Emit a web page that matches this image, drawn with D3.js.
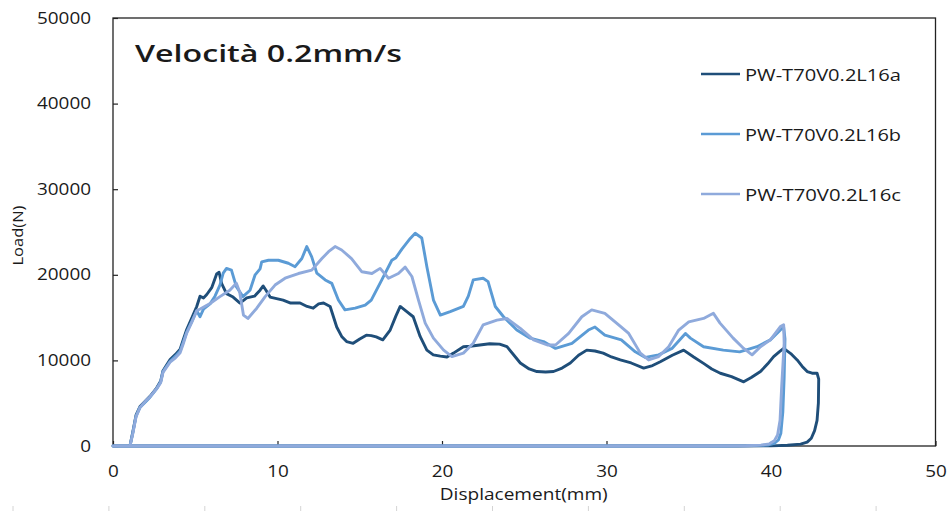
<!DOCTYPE html>
<html>
<head>
<meta charset="utf-8">
<script src="https://cdn.jsdelivr.net/npm/d3@7"></script>
<style>
  html, body { margin: 0; padding: 0; background: #fff; }
  svg { display: block; }
  text { font-family: "Open Sans", "Noto Sans", sans-serif; fill: #1a1a1a; }
</style>
</head>
<body>
<svg id="chart" width="952" height="511"></svg>
<script>
// ---------- data ----------
const seriesNames = ["PW-T70V0.2L16a", "PW-T70V0.2L16b", "PW-T70V0.2L16c"];
const xTicks = [0, 10, 20, 30, 40, 50];
const yTicks = [0, 10000, 20000, 30000, 40000, 50000];
const titleText = "Velocità 0.2mm/s";
const xLabel = "Displacement(mm)";
const yLabel = "Load(N)";

// [displacement mm, load N]
const seriesA = [[0,0],[1.03,0],[1.2,1600],[1.4,3600],[1.64,4600],[2.0,5300],[2.25,5800],[2.66,6800],[2.9,7600],[3.04,8800],[3.47,10100],[3.8,10700],[4.08,11300],[4.3,12600],[4.48,13600],[4.8,15000],[5.09,16300],[5.29,17500],[5.5,17300],[5.7,17700],[6.0,18500],[6.3,20100],[6.45,20300],[6.6,19000],[6.9,17800],[7.3,17400],[7.72,16700],[8.13,17300],[8.6,17500],[8.94,18200],[9.13,18700],[9.3,18200],[9.55,17400],[10.34,17050],[10.8,16700],[11.37,16700],[11.8,16300],[12.17,16100],[12.5,16600],[12.8,16700],[13.2,16300],[13.6,13900],[13.9,12800],[14.2,12200],[14.6,12000],[15.0,12500],[15.4,12950],[15.7,12900],[16.0,12750],[16.4,12400],[16.85,13550],[17.2,15200],[17.46,16300],[17.86,15700],[18.25,15100],[18.67,12800],[19.08,11200],[19.47,10650],[19.9,10500],[20.3,10400],[20.7,10850],[21.3,11600],[21.7,11650],[22.3,11800],[22.9,11950],[23.5,11900],[23.95,11600],[24.76,9700],[25.3,9000],[25.77,8700],[26.3,8650],[26.78,8700],[27.3,9100],[27.8,9700],[28.3,10600],[28.8,11200],[29.3,11100],[29.8,10850],[30.3,10400],[30.84,10050],[31.5,9700],[32.26,9100],[32.8,9400],[33.27,9850],[34.0,10600],[34.69,11200],[35.3,10400],[35.9,9650],[36.4,9000],[36.92,8500],[37.6,8100],[38.34,7500],[38.8,8000],[39.36,8700],[39.8,9600],[40.16,10450],[40.5,11000],[40.77,11400],[41.2,10800],[41.59,10050],[41.9,9300],[42.2,8700],[42.5,8500],[42.8,8500],[42.9,7800],[42.88,5000],[42.8,3000],[42.65,1800],[42.45,900],[42.2,450],[41.8,220],[41.0,80],[40.0,20],[38,0],[0,0]];

const seriesB = [[0,0],[1.03,0],[1.2,1500],[1.4,3500],[1.64,4500],[2.0,5200],[2.25,5700],[2.66,6700],[2.9,7500],[3.04,8700],[3.47,9900],[3.8,10500],[4.08,11100],[4.3,12300],[4.48,13300],[4.8,14600],[5.09,15800],[5.29,15100],[5.5,16000],[5.9,16600],[6.2,17500],[6.5,18800],[6.7,20200],[6.9,20750],[7.2,20550],[7.5,18600],[7.9,17450],[8.33,18200],[8.64,20000],[8.94,20700],[9.04,21500],[9.45,21700],[10.05,21700],[10.66,21350],[11.07,20950],[11.48,21900],[11.78,23300],[12.08,22100],[12.39,20200],[12.9,19400],[13.3,19000],[13.7,17050],[14.1,15900],[14.72,16100],[15.33,16450],[15.7,17050],[16.34,19400],[16.95,21700],[17.2,22000],[17.56,23000],[18.07,24250],[18.37,24850],[18.77,24300],[19.08,20950],[19.48,17050],[19.9,15300],[20.5,15700],[21.3,16300],[21.6,17500],[21.9,19400],[22.5,19600],[22.8,19200],[23.24,16300],[23.74,15100],[24.55,13550],[25.36,12600],[26.17,12200],[26.9,11400],[27.9,12000],[28.9,13550],[29.3,13900],[29.9,12950],[30.9,12400],[31.75,11000],[32.36,10350],[33.17,10650],[33.98,11400],[34.8,13150],[35.1,12600],[35.9,11600],[37.1,11200],[38.1,11000],[39.15,11600],[39.96,12400],[40.57,13550],[40.77,13900],[40.85,12500],[40.8,8000],[40.72,4000],[40.6,1500],[40.45,700],[40.2,300],[39.8,120],[39,40],[37,0],[0,0]];

const seriesC = [[0,0],[1.03,0],[1.2,1400],[1.4,3400],[1.64,4500],[2.0,5300],[2.25,5750],[2.66,6700],[2.9,7400],[3.04,8600],[3.47,9800],[3.8,10300],[4.08,10900],[4.3,12100],[4.48,13200],[4.8,14500],[5.09,15800],[5.3,16000],[5.9,16650],[6.5,17450],[7.1,18200],[7.5,19000],[7.7,18000],[7.93,15300],[8.2,14900],[8.74,16100],[9.25,17450],[9.85,18800],[10.46,19600],[11.27,20150],[12.08,20550],[12.7,21900],[13.1,22700],[13.5,23300],[13.9,22900],[14.5,21900],[15.13,20350],[15.74,20150],[16.24,20750],[16.75,19600],[17.35,20150],[17.76,20900],[18.17,19800],[18.57,17050],[18.98,14350],[19.48,12600],[20.1,11200],[20.6,10450],[21.3,10850],[21.9,12000],[22.5,14150],[23.34,14700],[23.95,14900],[24.76,13750],[25.57,12400],[26.4,11800],[26.9,11800],[27.7,13150],[28.5,15100],[29.1,15900],[29.9,15500],[30.74,14150],[31.35,13150],[32.06,10850],[32.56,10050],[33.17,10450],[33.78,11600],[34.39,13550],[35.0,14500],[35.9,14900],[36.5,15500],[36.9,14350],[37.7,12600],[38.34,11400],[38.85,10650],[39.36,11600],[39.96,12400],[40.57,13950],[40.77,14150],[40.8,12000],[40.65,7000],[40.55,3000],[40.4,1300],[40.2,600],[39.9,250],[39.4,100],[38.5,30],[36,0],[0,0]];

const colors = ["#1f4e79", "#5b9bd5", "#8faadc"];

// ---------- layout ----------
const svg = d3.select("#chart");
const m = { left: 113, top: 18, right: 935.5, bottom: 446 };

const x = d3.scaleLinear().domain([0, 50]).range([m.left, m.right]);
const y = d3.scaleLinear().domain([0, 50000]).range([m.bottom, m.top]);

// faint column marks at the very bottom (spreadsheet background)
const colMarks = d3.range(10).map(i => 13 + i * 95.9);
svg.append("g").selectAll("line").data(colMarks).join("line")
  .attr("x1", d => d).attr("x2", d => d)
  .attr("y1", 506).attr("y2", 511)
  .attr("stroke", "#d4d4d4").attr("stroke-width", 1);

// axes
const yAxis = svg.append("g")
  .attr("transform", `translate(${m.left},0)`)
  .call(d3.axisLeft(y).tickValues(yTicks).tickFormat(d3.format("d"))
        .tickSize(-5).tickPadding(22));
const xAxis = svg.append("g")
  .attr("transform", `translate(0,${m.bottom})`)
  .call(d3.axisBottom(x).tickValues(xTicks).tickFormat(d3.format("d"))
        .tickSize(-5).tickPadding(20));

[yAxis, xAxis].forEach(g => {
  g.select(".domain").remove();
  g.selectAll(".tick line").attr("stroke", "#222").attr("stroke-width", 1.2);
  g.selectAll(".tick text")
    .attr("fill", "#1a1a1a")
    .style("font-size", "16px")
    .attr("textLength", function () { return this.textContent.length * 10.8; })
    .attr("lengthAdjust", "spacingAndGlyphs");
});

// plot frame
svg.append("rect")
  .attr("x", m.left).attr("y", m.top)
  .attr("width", m.right - m.left).attr("height", m.bottom - m.top)
  .attr("fill", "none").attr("stroke", "#222").attr("stroke-width", 1.3);

// lines
const line = d3.line().x(d => x(d[0])).y(d => y(d[1]));
const allSeries = [seriesA, seriesB, seriesC];
svg.append("g").selectAll("path").data(allSeries).join("path")
  .attr("d", line)
  .attr("fill", "none")
  .attr("stroke", (d, i) => colors[i])
  .attr("stroke-width", 2.9)
  .attr("stroke-linejoin", "round")
  .attr("stroke-linecap", "round");

// title
svg.append("text")
  .attr("x", 135).attr("y", 62)
  .style("font-size", "24px").style("font-weight", "600")
  .attr("fill", "#111")
  .attr("textLength", 267).attr("lengthAdjust", "spacingAndGlyphs")
  .text(titleText);

// legend
const legendY = [74, 134, 194];
const lg = svg.append("g").selectAll("g").data(seriesNames).join("g")
  .attr("transform", (d, i) => `translate(701,${legendY[i]})`);
lg.append("line").attr("x1", 0).attr("x2", 39).attr("y1", 0).attr("y2", 0)
  .attr("stroke", (d, i) => colors[i]).attr("stroke-width", 2.6);
lg.append("text").attr("x", 44).attr("y", 6.5)
  .style("font-size", "17px")
  .attr("textLength", 156).attr("lengthAdjust", "spacingAndGlyphs")
  .text(d => d);

// axis titles
svg.append("text")
  .attr("x", (m.left + m.right) / 2 - 0.5).attr("y", 500)
  .attr("text-anchor", "middle")
  .style("font-size", "17px")
  .attr("textLength", 168).attr("lengthAdjust", "spacingAndGlyphs")
  .text(xLabel);

svg.append("text")
  .attr("transform", "translate(23,235.5) rotate(-90)")
  .attr("text-anchor", "middle")
  .style("font-size", "15px")
  .attr("textLength", 60).attr("lengthAdjust", "spacingAndGlyphs")
  .text(yLabel);
</script>
</body>
</html>
